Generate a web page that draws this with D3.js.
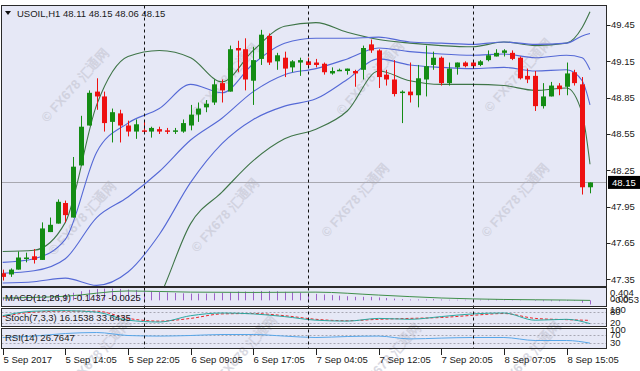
<!DOCTYPE html>
<html>
<head>
<meta charset="utf-8">
<script src="https://cdn.jsdelivr.net/npm/d3@7"></script>
<style>
body { margin: 0; background: #fff; }
svg text { font-family: "Liberation Sans", Arial, sans-serif; font-size: 9.5px; fill: #1a1a1a; }
</style>
</head>
<body>
<div id="graphicContainer"></div>
<script>

// candles, one per hourly bar
var opens  = [47.40,47.39,47.43,47.52,47.54,47.51,47.74,47.81,47.98,47.86,48.29,48.62,48.90,48.86,48.65,48.72,48.62,48.57,48.58,48.57,
              48.59,48.58,48.57,48.57,48.62,48.71,48.77,48.81,48.97,48.90,49.26,49.25,48.99,49.17,49.36,49.15,49.18,49.10,49.14,49.15,
              49.14,49.13,49.05,49.08,49.07,49.07,49.08,49.29,49.24,49.04,49.00,48.89,48.90,48.87,49.00,49.12,49.18,48.97,49.10,49.14,
              49.14,49.12,49.16,49.19,49.22,49.22,49.18,49.03,49.03,48.78,48.86,48.95,48.94,49.06,48.96,48.11];
var highs  = [47.43,47.44,47.58,47.57,47.60,47.82,47.86,48.01,48.00,48.36,48.70,48.91,49.01,48.90,48.76,48.75,48.66,48.67,48.65,48.61,
              48.61,48.60,48.60,48.67,48.79,48.81,48.83,49.00,49.00,49.28,49.32,49.34,49.27,49.41,49.38,49.22,49.23,49.16,49.18,49.18,
              49.17,49.14,49.10,49.09,49.09,49.08,49.28,49.33,49.25,49.08,49.16,48.91,49.14,49.12,49.28,49.23,49.19,49.14,49.14,49.15,
              49.16,49.16,49.24,49.25,49.25,49.24,49.19,49.09,49.07,48.97,48.98,48.97,49.14,49.08,49.02,48.15];
var lows   = [47.34,47.37,47.43,47.49,47.48,47.51,47.74,47.81,47.82,47.86,48.29,48.62,48.75,48.57,48.48,48.48,48.53,48.51,48.55,48.52,
              48.55,48.55,48.55,48.56,48.58,48.65,48.73,48.79,48.81,48.90,49.06,48.91,48.79,49.12,49.12,49.08,49.02,49.06,49.03,49.10,
              49.10,49.04,49.04,49.07,49.04,48.94,49.00,49.22,48.93,48.95,48.86,48.64,48.81,48.77,48.86,49.08,48.95,48.95,49.04,49.10,
              49.09,49.11,49.15,49.19,49.19,49.16,49.00,48.97,48.74,48.76,48.86,48.87,48.87,48.95,48.05,48.06];
var closes = [47.37,47.43,47.53,47.53,47.51,47.77,47.80,47.99,47.88,48.28,48.61,48.89,48.86,48.64,48.73,48.62,48.57,48.63,48.57,48.60,
              48.57,48.57,48.58,48.64,48.71,48.76,48.80,48.96,48.91,49.25,49.24,49.00,49.16,49.37,49.14,49.20,49.09,49.15,49.16,49.12,
              49.12,49.06,49.07,49.08,49.09,49.05,49.26,49.24,49.02,49.00,48.88,48.90,48.87,49.01,49.11,49.18,48.97,49.09,49.14,49.11,
              49.11,49.15,49.20,49.22,49.24,49.17,49.01,49.00,48.78,48.86,48.95,48.92,49.05,48.97,48.11,48.15];

// Bollinger lines at these bars
var bandBars = [0,4,8,12,16,20,24,28,32,36,40,44,48,52,56,60,64,68,72,74,75];
var bbUpper2 = [47.58,47.59,47.82,48.79,49.19,49.24,49.18,48.98,49.24,49.44,49.47,49.39,49.33,49.30,49.28,49.27,49.31,49.28,49.30,49.43,49.56];
var bbUpper1 = [47.49,47.52,47.68,48.40,48.64,48.76,48.96,48.89,49.13,49.30,49.34,49.34,49.35,49.31,49.30,49.29,49.31,49.29,49.30,49.36,49.38];
var bbMiddle = [47.40,47.42,47.52,47.86,48.03,48.24,48.50,48.68,48.90,49.04,49.09,49.17,49.26,49.23,49.21,49.20,49.21,49.18,49.20,49.18,49.08];
var bbLower1 = [47.32,47.33,47.36,47.30,47.41,47.72,48.15,48.47,48.67,48.78,48.84,49.00,49.17,49.12,49.10,49.09,49.10,49.07,49.08,48.99,48.79];
var bbLower2 = [47.24,47.25,47.20,46.78,46.79,47.20,47.81,48.07,48.33,48.51,48.59,48.74,49.07,48.99,48.96,48.96,48.95,48.91,48.93,48.72,48.30];

var lastPrice = 48.15;
var priceTicks = [49.45,49.15,48.85,48.55,48.25,47.95,47.65,47.35];

var timeBars   = [0,8,16,24,32,40,48,56,64,72];
var timeLabels = ["5 Sep 2017","5 Sep 14:05","5 Sep 22:05","6 Sep 09:05","6 Sep 17:05",
                  "7 Sep 04:05","7 Sep 12:05","7 Sep 20:05","8 Sep 07:05","8 Sep 15:05"];
var dayBreakBars = [18,39,60];

// indicator windows
var macdMain   = [0.10,0.11,0.12,0.13,0.14,0.16,0.18,0.21,0.22,0.26,0.31,0.36,0.39,0.40,0.40,0.39,0.37,0.35,0.33,0.31,
                  0.29,0.27,0.25,0.24,0.23,0.23,0.23,0.24,0.25,0.28,0.30,0.30,0.30,0.32,0.32,0.31,0.29,0.28,0.26,0.24,
                  0.22,0.20,0.18,0.16,0.14,0.12,0.12,0.12,0.10,0.08,0.06,0.04,0.03,0.03,0.03,0.04,0.03,0.02,0.02,0.02,
                  0.02,0.02,0.03,0.03,0.04,0.03,0.01,0.00,-0.02,-0.03,-0.03,-0.03,-0.02,-0.02,-0.08,-0.14];
var macdSigBars = [0,8,16,24,32,40,48,56,64,72,75];
var macdSignal  = [0.08,0.14,0.32,0.28,0.27,0.28,0.18,0.08,0.03,0.01,-0.0025];
var stochBars   = [0,4,8,12,16,20,24,28,32,36,40,44,48,52,56,60,64,68,72,75];
var stochMain   = [60,85,88,80,35,25,60,75,70,55,35,30,45,40,55,70,75,35,40,16];
var stochSignal = [55,80,85,85,45,30,45,70,72,60,40,32,40,45,50,62,72,45,38,34];
var rsiBars     = [0,4,8,12,16,20,24,28,32,36,40,44,48,52,56,60,64,68,72,75];
var rsiValues   = [55,62,75,80,65,62,65,70,70,62,55,60,62,48,52,55,55,40,40,27];

var watermarks = [[75,85],[225,80],[370,78],[518,75],[82,218],[225,215],[355,200],[515,200],[97,355],[243,352],[387,360],[527,358]];

function draw_chart() {

		var width = 640, height = 371;
		var left = 1.5, right = 606.5;

		var panels = {
			main:  {top: 5.5,   bottom: 286.5},
			macd:  {top: 287.5, bottom: 306.5},
			stoch: {top: 308.5, bottom: 326.5},
			rsi:   {top: 328.5, bottom: 348.5}
		};

		d3.select("#graphicContainer svg").remove();

		var svg = d3.select("#graphicContainer").append("svg")
			.attr("width", width)
			.attr("height", height);

		// panel backgrounds
		Object.keys(panels).forEach(function(k) {
			var p = panels[k];
			svg.append("clipPath").attr("id", "clip-" + k)
				.append("rect").attr("x", left).attr("y", p.top).attr("width", right - left).attr("height", p.bottom - p.top);
			svg.append("rect")
				.attr("x", left).attr("y", p.top)
				.attr("width", right - left).attr("height", p.bottom - p.top)
				.attr("fill", "#e6e8f6");
		});

		var x = d3.scaleLinear()
			.domain([0, opens.length - 1])
			.range([2.7, 590]);

		var y = d3.scaleLinear()
			.domain([47.35, 49.45])
			.range([279.3, 25]);

		// watermarks
		var wm = svg.append("g");
		wm.selectAll("text")
			.data(watermarks)
			.enter()
			.append("text")
			.attr("transform", d => `translate(${d[0]},${d[1]}) rotate(-48)`)
			.attr("text-anchor", "middle")
			.attr("dy", "0.35em")
			.style("font-size", "13px")
			.style("font-weight", "bold")
			.style("fill", "#c9cad6")
			.style("opacity", 0.7)
			.text("© FX678 汇通网");

		var main = svg.append("g").attr("clip-path", "url(#clip-main)");

		// bid line
		main.append("line")
			.attr("x1", left).attr("x2", right)
			.attr("y1", Math.round(y(lastPrice)) + 0.5).attr("y2", Math.round(y(lastPrice)) + 0.5)
			.attr("stroke", "#a8a8b0");

		// bollinger bands
		var bandLine = function(vals) {
			return d3.line()
				.x((d, i) => x(bandBars[i]))
				.y(d => y(d))
				.curve(d3.curveMonotoneX)(vals);
		};
		[[bbUpper2, "#3f7548"], [bbLower2, "#3f7548"], [bbUpper1, "#5569d6"], [bbMiddle, "#5569d6"], [bbLower1, "#5569d6"]]
			.forEach(function(b) {
				main.append("path")
					.attr("d", bandLine(b[0]))
					.attr("fill", "none")
					.attr("stroke", b[1])
					.attr("stroke-width", 1.1);
			});

		// candles
		var candles = main.append("g")
			.selectAll("g")
			.data(opens.map((o, i) => ({i: i, o: o, h: highs[i], l: lows[i], c: closes[i]})))
			.enter()
			.append("g");

		var col = d => d.c >= d.o ? "#148c14" : "#ee1111";

		candles.append("line")
			.attr("x1", d => Math.round(x(d.i)) + 0.5)
			.attr("x2", d => Math.round(x(d.i)) + 0.5)
			.attr("y1", d => y(d.h))
			.attr("y2", d => y(d.l))
			.attr("stroke", col);

		candles.append("rect")
			.attr("x", d => Math.round(x(d.i)) - 2)
			.attr("y", d => y(Math.max(d.o, d.c)))
			.attr("width", 5)
			.attr("height", d => Math.max(1.5, Math.abs(y(d.o) - y(d.c))))
			.attr("fill", col);

		// price axis
		var axis = svg.append("g");
		priceTicks.forEach(function(p) {
			axis.append("line")
				.attr("x1", right).attr("x2", right + 4)
				.attr("y1", Math.round(y(p)) + 0.5).attr("y2", Math.round(y(p)) + 0.5)
				.attr("stroke", "#222");
			axis.append("text")
				.attr("x", 611).attr("y", y(p)).attr("dy", "0.35em")
				.text(p.toFixed(2));
		});
		axis.append("rect")
			.attr("x", 608).attr("y", y(lastPrice) - 6.5)
			.attr("width", 32).attr("height", 13)
			.attr("fill", "#000");
		axis.append("text")
			.attr("x", 612).attr("y", y(lastPrice)).attr("dy", "0.35em")
			.style("fill", "#fff")
			.text(lastPrice.toFixed(2));

		// MACD
		var pm = panels.macd;
		var yM = d3.scaleLinear().domain([-0.21, 0.404]).range([pm.bottom, pm.top + 1]);
		var macdG = svg.append("g").attr("clip-path", "url(#clip-macd)");
		macdG.selectAll("line")
			.data(macdMain)
			.enter()
			.append("line")
			.attr("x1", (d, i) => Math.round(x(i)) + 0.5)
			.attr("x2", (d, i) => Math.round(x(i)) + 0.5)
			.attr("y1", yM(0))
			.attr("y2", d => yM(d))
			.attr("stroke", "#9b63c8");
		macdG.append("path")
			.attr("d", d3.line().x((d, i) => x(macdSigBars[i])).y(d => yM(d)).curve(d3.curveMonotoneX)(macdSignal))
			.attr("fill", "none")
			.attr("stroke", "#3f8f4a");

		// Stochastic
		var ps = panels.stoch;
		var yS = d3.scaleLinear().domain([0, 100]).range([ps.bottom, ps.top]);
		var stG = svg.append("g").attr("clip-path", "url(#clip-stoch)");
		[20, 80].forEach(function(v) {
			stG.append("line").attr("x1", left).attr("x2", right)
				.attr("y1", Math.round(yS(v)) + 0.5).attr("y2", Math.round(yS(v)) + 0.5)
				.attr("stroke", "#a8a8b4").attr("stroke-dasharray", "2,2");
		});
		stG.append("path")
			.attr("d", d3.line().x((d, i) => x(stochBars[i])).y(d => yS(d)).curve(d3.curveMonotoneX)(stochSignal))
			.attr("fill", "none").attr("stroke", "#e8262a").attr("stroke-dasharray", "3,2");
		stG.append("path")
			.attr("d", d3.line().x((d, i) => x(stochBars[i])).y(d => yS(d)).curve(d3.curveMonotoneX)(stochMain))
			.attr("fill", "none").attr("stroke", "#2aa8a0");

		// RSI
		var pr = panels.rsi;
		var yR = d3.scaleLinear().domain([0, 100]).range([pr.bottom, pr.top]);
		var rsG = svg.append("g").attr("clip-path", "url(#clip-rsi)");
		[30, 70].forEach(function(v) {
			rsG.append("line").attr("x1", left).attr("x2", right)
				.attr("y1", Math.round(yR(v)) + 0.5).attr("y2", Math.round(yR(v)) + 0.5)
				.attr("stroke", "#a8a8b4").attr("stroke-dasharray", "2,2");
		});
		rsG.append("path")
			.attr("d", d3.line().x((d, i) => x(rsiBars[i])).y(d => yR(d)).curve(d3.curveMonotoneX)(rsiValues))
			.attr("fill", "none").attr("stroke", "#58a6e8");

		// day separators
		svg.append("g").selectAll("line")
			.data(dayBreakBars)
			.enter()
			.append("line")
			.attr("x1", d => Math.round(x(d)) + 0.5)
			.attr("x2", d => Math.round(x(d)) + 0.5)
			.attr("y1", panels.main.top).attr("y2", panels.rsi.bottom)
			.attr("stroke", "#111").attr("stroke-dasharray", "3,3");

		// panel borders
		Object.keys(panels).forEach(function(k) {
			var p = panels[k];
			svg.append("rect")
				.attr("x", left).attr("y", p.top)
				.attr("width", right - left).attr("height", p.bottom - p.top)
				.attr("fill", "none").attr("stroke", "#2a2a2a");
		});

		// sub-window axis labels
		svg.append("text").attr("x", 610).attr("y", 293).attr("dy", "0.35em").text("0.404");
		svg.append("text").attr("x", 610).attr("y", 299).attr("dy", "0.35em").text("0.00");
		svg.append("text").attr("x", 612).attr("y", 300).attr("dy", "0.35em").text("-0.053");
		svg.append("text").attr("x", 610).attr("y", yS(100)).attr("dy", "0.5em").text("100");
		svg.append("text").attr("x", 610).attr("y", yS(80)).attr("dy", "0.35em").text("80");
		svg.append("text").attr("x", 610).attr("y", yS(20)).attr("dy", "0.35em").text("20");
		svg.append("text").attr("x", 610).attr("y", yR(100)).attr("dy", "0.5em").text("100");
		svg.append("text").attr("x", 610).attr("y", yR(70)).attr("dy", "0.35em").text("70");
		svg.append("text").attr("x", 610).attr("y", yR(30)).attr("dy", "0.35em").text("30");

		// time axis
		var tg = svg.append("g");
		timeBars.forEach(function(b, i) {
			var tx = Math.round(x(b)) + 0.5;
			tg.append("line").attr("x1", tx).attr("x2", tx).attr("y1", 349).attr("y2", 355).attr("stroke", "#222");
			tg.append("text").attr("x", tx).attr("y", 363).text(timeLabels[i]);
		});

		// titles
		svg.append("path").attr("d", "M5,11 L11,11 L8,15 Z").attr("fill", "#111");
		svg.append("text").attr("x", 17).attr("y", 17).text("USOIL,H1  48.11 48.15 48.06 48.15");
		svg.append("text").attr("x", 5).attr("y", 301).text("MACD(12,26,9) -0.1437 -0.0025");
		svg.append("text").attr("x", 5).attr("y", 321).text("Stoch(7,3,3) 16.1538 33.6435");
		svg.append("text").attr("x", 5).attr("y", 341).text("RSI(14) 26.7647");
}

draw_chart();

</script>
</body>
</html>
